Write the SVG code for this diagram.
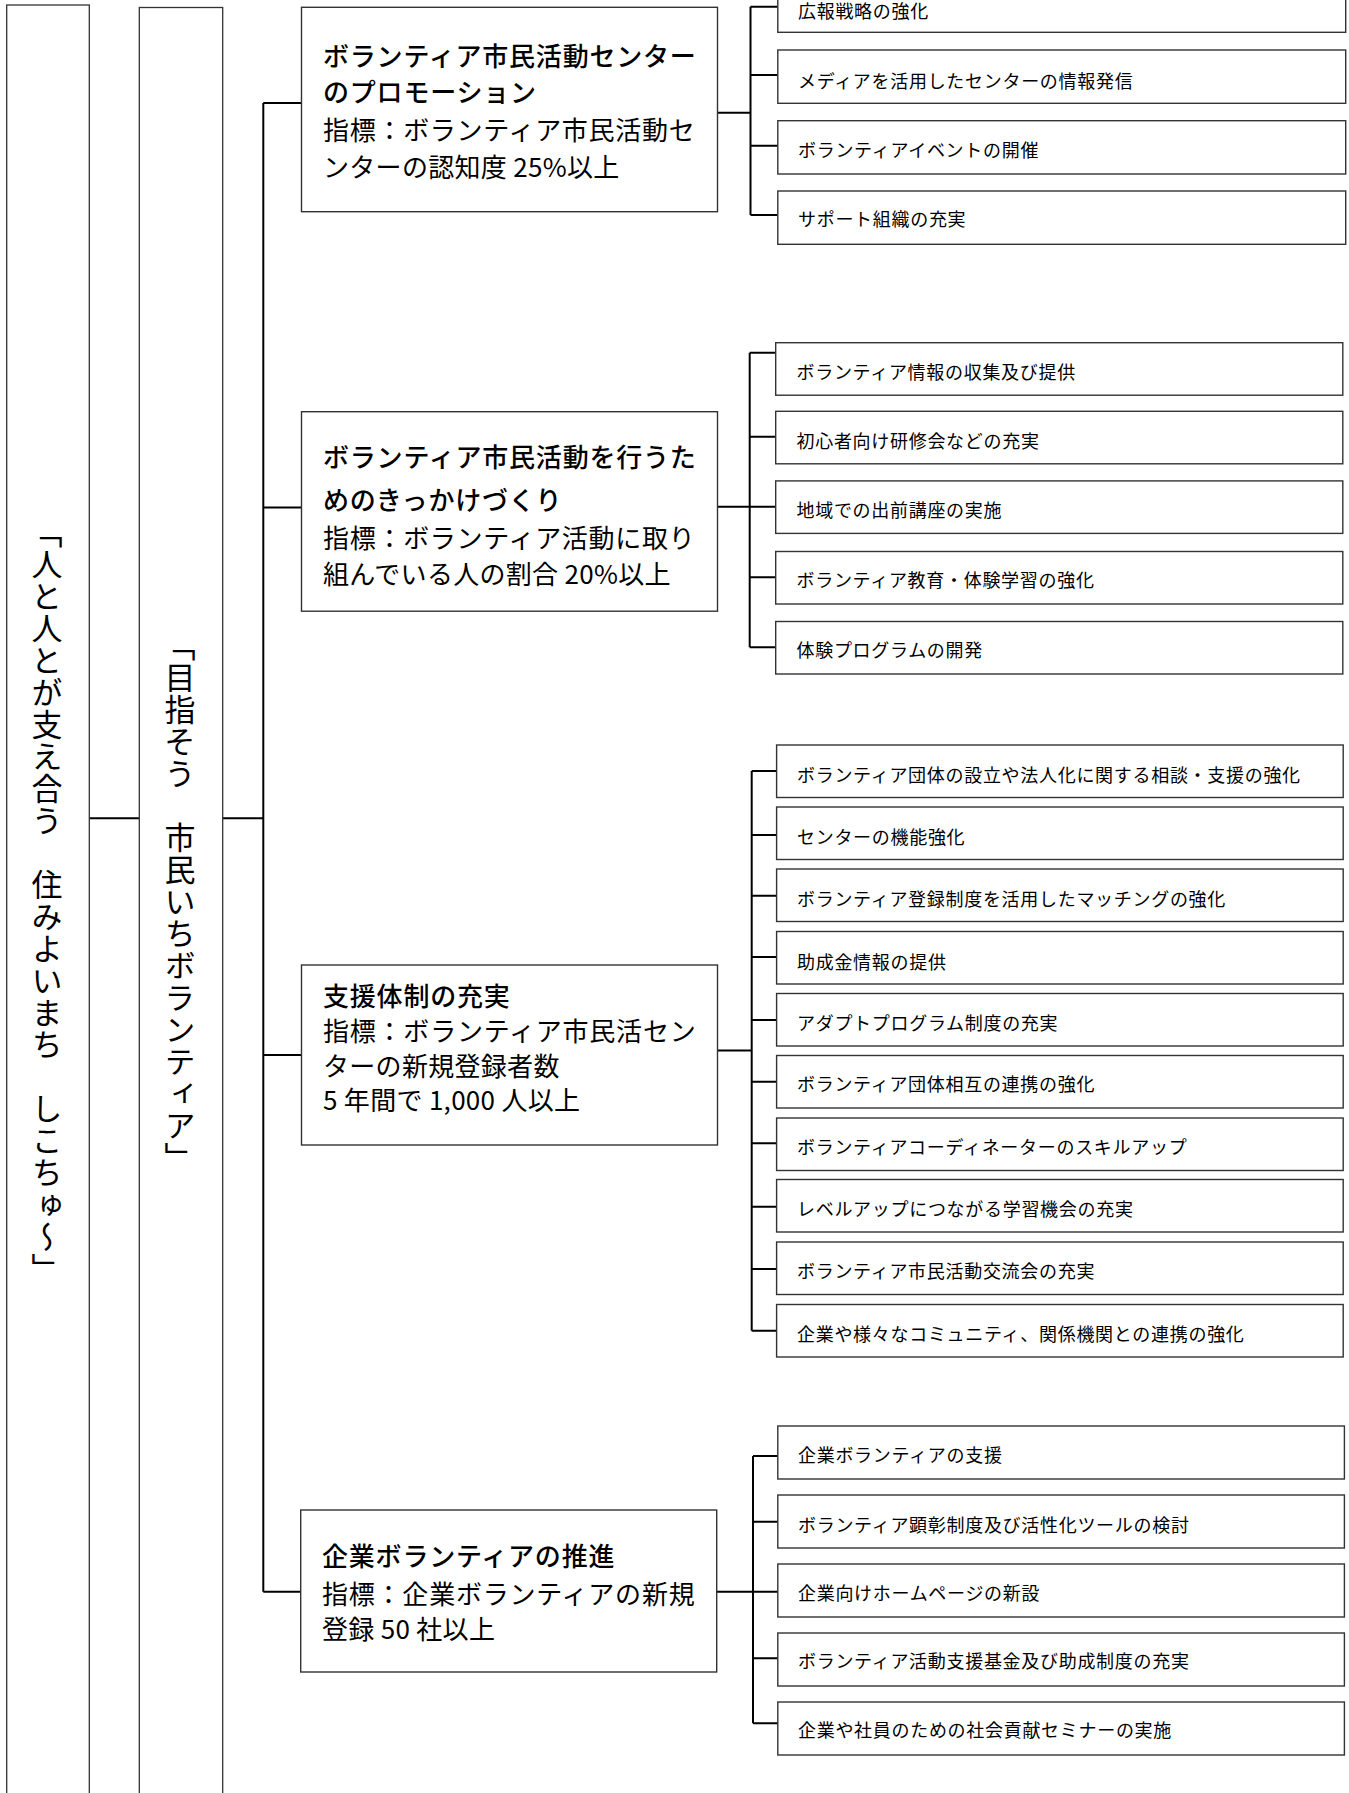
<svg xmlns="http://www.w3.org/2000/svg" width="1349" height="1793" viewBox="0 0 1349 1793">
<style>
  .bg{fill:#ffffff}
  .box{fill:#ffffff;stroke:#333333;stroke-width:1.4}
  .col{fill:#ffffff;stroke:#333333;stroke-width:1.3}
  .leaf{fill:#ffffff;stroke:#333333;stroke-width:1.4}
  .con{fill:none;stroke:#000000;stroke-width:2}
  .t{font-family:"Noto Sans CJK JP","Noto Sans CJK SC",sans-serif;fill:#000000}
  .ttl{font-size:26px;font-weight:500;letter-spacing:0.8px}
  .ind{font-size:26px;font-weight:400;letter-spacing:0.3px}
  .lt{font-size:18px;font-weight:400;letter-spacing:0.7px}
  .vt{font-size:31px;font-weight:400;letter-spacing:1px;writing-mode:vertical-rl}
</style>
<rect class="bg" x="0" y="0" width="1349" height="1793"/>

<g id="connectors">
  <path class="con" d="M89.3 818.3H139.3"/>
  <path class="con" d="M222.7 818.3H263.3"/>
  <path class="con" d="M263.3 103V1591.7"/>
  <path class="con" d="M263.3 103H301.5M263.3 507.6H301.5M263.3 1055H301.5M263.3 1591.7H300.7"/>
  <path class="con" d="M717.5 112.7H750.5M750.5 6.7V215M750.5 6.7H777.8M750.5 75H777.8M750.5 145.7H777.8M750.5 215H777.8"/>
  <path class="con" d="M717.5 506.7H749.7M749.7 352.7V647.3M749.7 352.7H775.7M749.7 436.7H775.7M749.7 506.7H775.7M749.7 577.3H775.7M749.7 647.3H775.7"/>
  <path class="con" d="M717.5 1050.5H751.7M751.7 771V1330.7M751.7 771H776.6M751.7 835H776.6M751.7 895.7H776.6M751.7 957H776.6M751.7 1020H776.6M751.7 1081.7H776.6M751.7 1143.3H776.6M751.7 1206.7H776.6M751.7 1269H776.6M751.7 1330.7H776.6"/>
  <path class="con" d="M716.7 1591.7H753M753 1456V1723.3M753 1456H777.8M753 1521.7H777.8M753 1591.7H777.8M753 1658.3H777.8M753 1723.3H777.8"/>
</g>

<g id="vision">
  <rect class="col" x="6.7" y="5" width="82.6" height="1800"/>
  <text class="t vt" x="47" y="517">「人と人とが支え合う　住みよいまち　しこちゅ～」</text>
</g>
<g id="goal">
  <rect class="col" x="139.3" y="7.5" width="83.4" height="1800"/>
  <text class="t vt" x="180" y="630">「目指そう　市民いちボランティア」</text>
</g>

<g id="node-promotion">
  <rect class="box" x="301.5" y="7.3" width="416" height="204.4"/>
  <text class="t ttl" x="323" y="66">ボランティア市民活動センター</text>
  <text class="t ttl" x="323" y="102">のプロモーション</text>
  <text class="t ind" x="323" y="140" textLength="372" lengthAdjust="spacing">指標：ボランティア市民活動セ</text>
  <text class="t ind" x="323" y="177">ンターの認知度 25%以上</text>
</g>
<g id="node-kikkake">
  <rect class="box" x="301.5" y="411.7" width="416" height="199.5"/>
  <text class="t ttl" x="323" y="467">ボランティア市民活動を行うた</text>
  <text class="t ttl" x="323" y="509.5">めのきっかけづくり</text>
  <text class="t ind" x="323" y="547.5" textLength="372" lengthAdjust="spacing">指標：ボランティア活動に取り</text>
  <text class="t ind" x="323" y="583.5">組んでいる人の割合 20%以上</text>
</g>
<g id="node-shien">
  <rect class="box" x="301.5" y="965" width="416" height="180"/>
  <text class="t ttl" x="323" y="1005.5">支援体制の充実</text>
  <text class="t ind" x="323" y="1040.5" textLength="373" lengthAdjust="spacing">指標：ボランティア市民活セン</text>
  <text class="t ind" x="323" y="1075.5">ターの新規登録者数</text>
  <text class="t ind" x="323" y="1109.5">5 年間で 1,000 人以上</text>
</g>
<g id="node-kigyo">
  <rect class="box" x="300.7" y="1510" width="416" height="162"/>
  <text class="t ttl" x="322" y="1566">企業ボランティアの推進</text>
  <text class="t ind" x="322" y="1604" textLength="373" lengthAdjust="spacing">指標：企業ボランティアの新規</text>
  <text class="t ind" x="322" y="1638.5">登録 50 社以上</text>
</g>

<g id="leaves-promotion">
  <g id="leaf-1-1"><rect class="leaf" x="777.8" y="-21" width="567.9" height="53.3"/><text class="t lt" x="798" y="18">広報戦略の強化</text></g>
  <g id="leaf-1-2"><rect class="leaf" x="777.8" y="50" width="567.9" height="53.3"/><text class="t lt" x="798" y="87.5">メディアを活用したセンターの情報発信</text></g>
  <g id="leaf-1-3"><rect class="leaf" x="777.8" y="120.7" width="567.9" height="53.3"/><text class="t lt" x="798" y="157">ボランティアイベントの開催</text></g>
  <g id="leaf-1-4"><rect class="leaf" x="777.8" y="191" width="567.9" height="53.3"/><text class="t lt" x="798" y="226">サポート組織の充実</text></g>
</g>

<g id="leaves-kikkake">
  <g id="leaf-2-1"><rect class="leaf" x="775.7" y="342.7" width="567.1" height="52.5"/><text class="t lt" x="796.5" y="379">ボランティア情報の収集及び提供</text></g>
  <g id="leaf-2-2"><rect class="leaf" x="775.7" y="411.3" width="567.1" height="52.5"/><text class="t lt" x="796.5" y="447.5">初心者向け研修会などの充実</text></g>
  <g id="leaf-2-3"><rect class="leaf" x="775.7" y="480.9" width="567.1" height="52.5"/><text class="t lt" x="796.5" y="517">地域での出前講座の実施</text></g>
  <g id="leaf-2-4"><rect class="leaf" x="775.7" y="551.5" width="567.1" height="52.5"/><text class="t lt" x="796.5" y="587">ボランティア教育・体験学習の強化</text></g>
  <g id="leaf-2-5"><rect class="leaf" x="775.7" y="621.5" width="567.1" height="52.5"/><text class="t lt" x="796.5" y="657">体験プログラムの開発</text></g>
</g>

<g id="leaves-shien">
  <g id="leaf-3-1"><rect class="leaf" x="776.6" y="745" width="566.6" height="52.5"/><text class="t lt" x="797" y="782">ボランティア団体の設立や法人化に関する相談・支援の強化</text></g>
  <g id="leaf-3-2"><rect class="leaf" x="776.6" y="807" width="566.6" height="52.5"/><text class="t lt" x="797" y="844">センターの機能強化</text></g>
  <g id="leaf-3-3"><rect class="leaf" x="776.6" y="869" width="566.6" height="52.5"/><text class="t lt" x="797" y="906">ボランティア登録制度を活用したマッチングの強化</text></g>
  <g id="leaf-3-4"><rect class="leaf" x="776.6" y="931.5" width="566.6" height="52.5"/><text class="t lt" x="797" y="969">助成金情報の提供</text></g>
  <g id="leaf-3-5"><rect class="leaf" x="776.6" y="993.5" width="566.6" height="52.5"/><text class="t lt" x="797" y="1030">アダプトプログラム制度の充実</text></g>
  <g id="leaf-3-6"><rect class="leaf" x="776.6" y="1055.5" width="566.6" height="52.5"/><text class="t lt" x="797" y="1091">ボランティア団体相互の連携の強化</text></g>
  <g id="leaf-3-7"><rect class="leaf" x="776.6" y="1118" width="566.6" height="52.5"/><text class="t lt" x="797" y="1154">ボランティアコーディネーターのスキルアップ</text></g>
  <g id="leaf-3-8"><rect class="leaf" x="776.6" y="1179.5" width="566.6" height="52.5"/><text class="t lt" x="797" y="1215.5">レベルアップにつながる学習機会の充実</text></g>
  <g id="leaf-3-9"><rect class="leaf" x="776.6" y="1242" width="566.6" height="52.5"/><text class="t lt" x="797" y="1277.5">ボランティア市民活動交流会の充実</text></g>
  <g id="leaf-3-10"><rect class="leaf" x="776.6" y="1304.5" width="566.6" height="52.5"/><text class="t lt" x="797" y="1340.5">企業や様々なコミュニティ、関係機関との連携の強化</text></g>
</g>

<g id="leaves-kigyo">
  <g id="leaf-4-1"><rect class="leaf" x="777.8" y="1426" width="566.6" height="53"/><text class="t lt" x="798" y="1462">企業ボランティアの支援</text></g>
  <g id="leaf-4-2"><rect class="leaf" x="777.8" y="1495" width="566.6" height="53"/><text class="t lt" x="798" y="1531.5">ボランティア顕彰制度及び活性化ツールの検討</text></g>
  <g id="leaf-4-3"><rect class="leaf" x="777.8" y="1564" width="566.6" height="53"/><text class="t lt" x="798" y="1599.5">企業向けホームページの新設</text></g>
  <g id="leaf-4-4"><rect class="leaf" x="777.8" y="1633" width="566.6" height="53"/><text class="t lt" x="798" y="1668">ボランティア活動支援基金及び助成制度の充実</text></g>
  <g id="leaf-4-5"><rect class="leaf" x="777.8" y="1702" width="566.6" height="53"/><text class="t lt" x="798" y="1736.5">企業や社員のための社会貢献セミナーの実施</text></g>
</g>
</svg>
